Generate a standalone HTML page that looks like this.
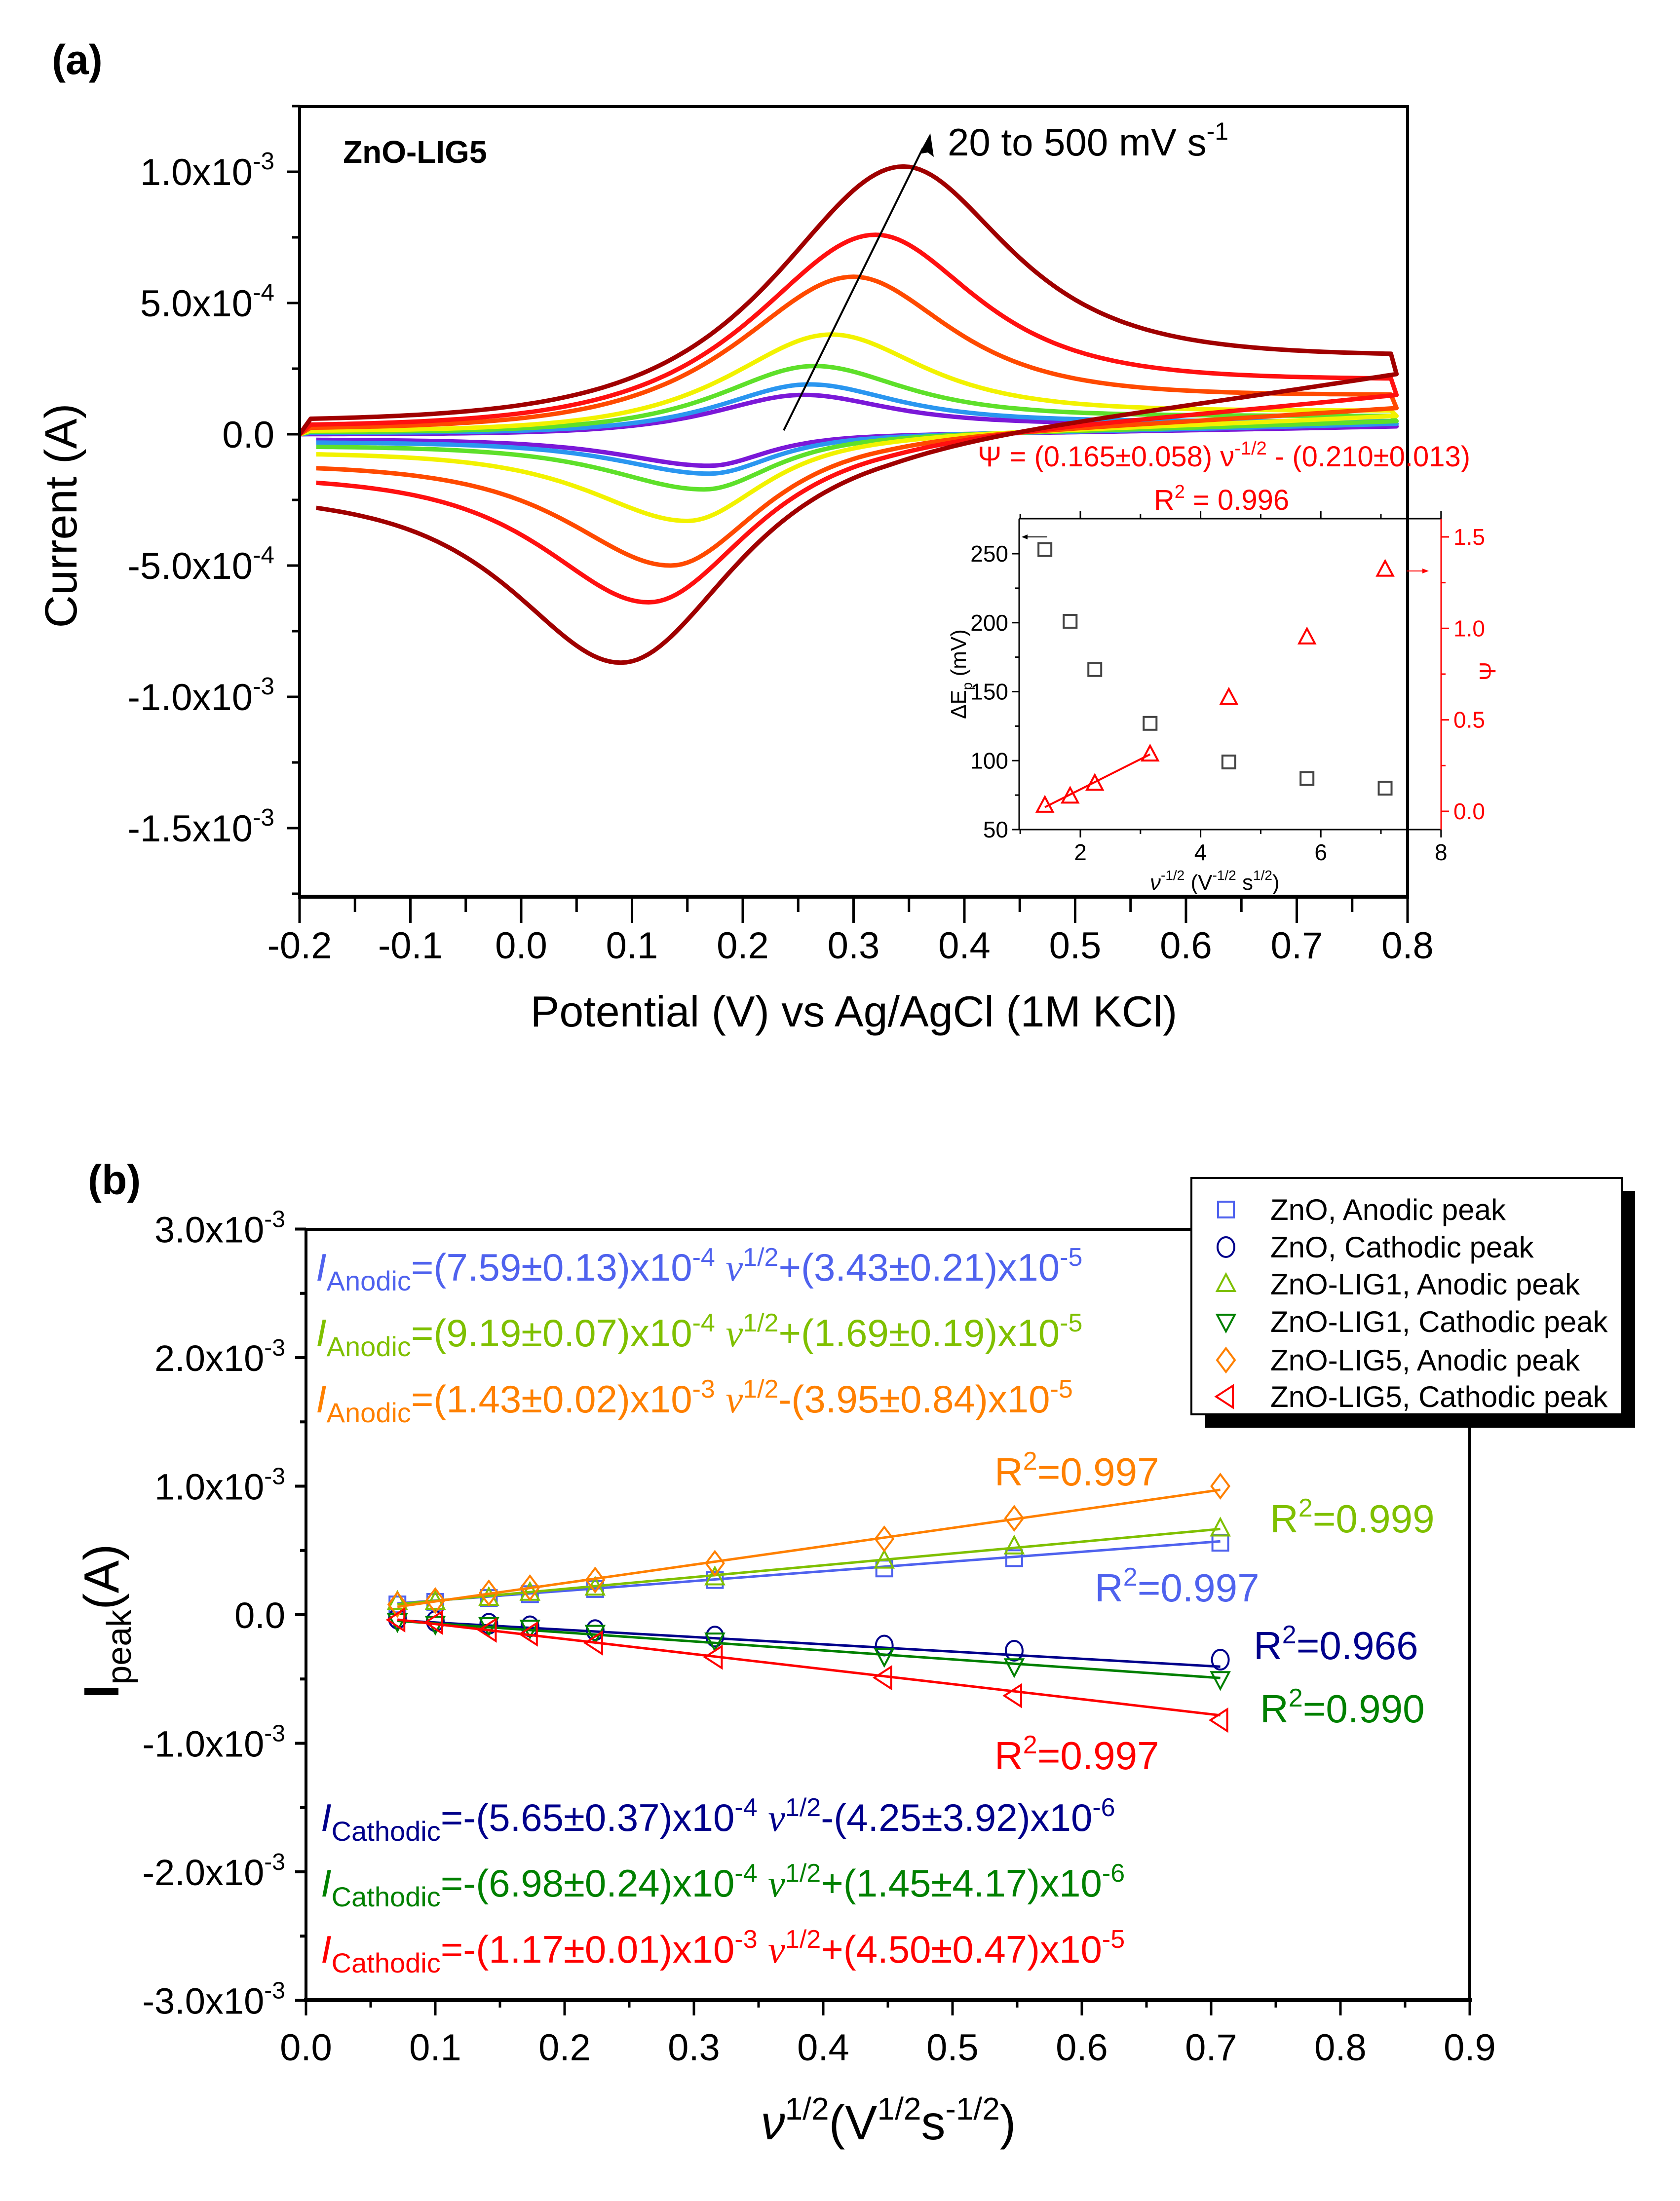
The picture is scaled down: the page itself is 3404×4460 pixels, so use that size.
<!DOCTYPE html>
<html><head><meta charset="utf-8"><style>
html,body{margin:0;padding:0;background:#fff}
svg{display:block;font-family:"Liberation Sans",Arial,sans-serif}
</style></head><body>
<svg id="fig" width="3404" height="4460" viewBox="0 0 3404 4460" xmlns="http://www.w3.org/2000/svg">
<rect width="3404" height="4460" fill="#fff"/>
<g id="pa"></g>
<g id="pb"></g>
</svg>
<script>
// ---------- Panel (a) CV data (one entry per scan rate) ----------
const scanRates = [20, 30, 50, 100, 200, 300, 500];
const cvColors = ["#7b18d8", "#2a96f0", "#5ee02a", "#f2f200", "#ff4a00", "#ff1010", "#a00000"];
const anodicPeakE = [0.255, 0.26, 0.265, 0.28, 0.30, 0.32, 0.345];
const anodicPeakI = [1.5e-4, 1.9e-4, 2.6e-4, 3.8e-4, 6.0e-4, 7.6e-4, 10.2e-4];
const cathodicPeakE = [0.17, 0.17, 0.165, 0.15, 0.135, 0.115, 0.09];
const cathodicPeakI = [-1.2e-4, -1.5e-4, -2.1e-4, -3.3e-4, -5.0e-4, -6.4e-4, -8.7e-4];
const forwardStartI = [0.0, 0.05e-4, 0.08e-4, 0.12e-4, 0.2e-4, 0.3e-4, 0.5e-4];
const forwardEndI = [0.4e-4, 0.5e-4, 0.7e-4, 0.9e-4, 1.5e-4, 2.1e-4, 3.0e-4];
const reverseStartI = [0.3e-4, 0.4e-4, 0.5e-4, 0.7e-4, 1.0e-4, 1.5e-4, 2.3e-4];
const reverseEndI = [-0.2e-4, -0.3e-4, -0.45e-4, -0.7e-4, -1.15e-4, -1.6e-4, -2.3e-4];
const riseWidth = [0.07, 0.07, 0.075, 0.08, 0.09, 0.095, 0.1];
const decayWidth = [0.065, 0.067, 0.07, 0.072, 0.075, 0.078, 0.082];
const cathRightWidth = [0.045, 0.05, 0.055, 0.06, 0.07, 0.08, 0.09];
const cathLeftWidth = [0.07, 0.072, 0.074, 0.076, 0.08, 0.082, 0.085];
const aXTicks = [-0.2, -0.1, 0.0, 0.1, 0.2, 0.3, 0.4, 0.5, 0.6, 0.7, 0.8];
const aYTicks = [[1.0, -3, 1e-3], [5.0, -4, 5e-4], [0, 0, 0], [-5.0, -4, -5e-4], [-1.0, -3, -1e-3], [-1.5, -3, -1.5e-3]];
// inset
const insetX = [1.41, 1.83, 2.24, 3.16, 4.47, 5.77, 7.07];
const insetDeltaEp = [253, 201, 166, 127, 99, 87, 80];
const insetPsi = [0.03, 0.08, 0.15, 0.31, 0.62, 0.95, 1.32];
const insetFitX = [1.41, 3.16];
const psiSlope = 0.165, psiIntercept = -0.210;
const insetXTicks = [2, 4, 6, 8];
const insetLeftTicks = [50, 100, 150, 200, 250];
const insetRightTicks = [0.0, 0.5, 1.0, 1.5];

// ---------- Panel (b) data ----------
const sqrtRate = [0.0707, 0.1, 0.1414, 0.1732, 0.2236, 0.3162, 0.4472, 0.5477, 0.7071];
const znoAnodic = [0.08e-3, 0.1e-3, 0.13e-3, 0.16e-3, 0.2e-3, 0.27e-3, 0.36e-3, 0.44e-3, 0.56e-3];
const znoCathodic = [-0.03e-3, -0.05e-3, -0.07e-3, -0.09e-3, -0.12e-3, -0.17e-3, -0.24e-3, -0.28e-3, -0.35e-3];
const lig1Anodic = [0.1e-3, 0.1e-3, 0.13e-3, 0.17e-3, 0.21e-3, 0.29e-3, 0.42e-3, 0.53e-3, 0.67e-3];
const lig1Cathodic = [-0.05e-3, -0.07e-3, -0.08e-3, -0.1e-3, -0.14e-3, -0.2e-3, -0.32e-3, -0.4e-3, -0.5e-3];
const lig5Anodic = [0.08e-3, 0.11e-3, 0.17e-3, 0.21e-3, 0.27e-3, 0.4e-3, 0.59e-3, 0.75e-3, 1.0e-3];
const lig5Cathodic = [-0.04e-3, -0.06e-3, -0.12e-3, -0.15e-3, -0.22e-3, -0.33e-3, -0.49e-3, -0.63e-3, -0.82e-3];
const fitSlopes = [7.59e-4, -5.65e-4, 9.19e-4, -6.98e-4, 1.43e-3, -1.17e-3];
const fitIntercepts = [3.43e-5, -4.25e-6, 1.69e-5, 1.45e-6, -3.95e-5, 4.50e-5];
const seriesNames = ["ZnO, Anodic peak", "ZnO, Cathodic peak", "ZnO-LIG1, Anodic peak", "ZnO-LIG1, Cathodic peak", "ZnO-LIG5, Anodic peak", "ZnO-LIG5, Cathodic peak"];
const seriesColors = ["#4f62ee", "#00008b", "#7fc000", "#008000", "#ff8000", "#ff0000"];
const seriesMarkers = ["square", "circle", "up", "down", "diamond", "left"];
const bXTicks = [0.0, 0.1, 0.2, 0.3, 0.4, 0.5, 0.6, 0.7, 0.8, 0.9];
const bYTicks = [[3.0, -3, 3e-3], [2.0, -3, 2e-3], [1.0, -3, 1e-3], [0, 0, 0], [-1.0, -3, -1e-3], [-2.0, -3, -2e-3], [-3.0, -3, -3e-3]];

const NS = "http://www.w3.org/2000/svg";
function mk(tag, attrs, parent) { const e = document.createElementNS(NS, tag); for (const k in attrs) e.setAttribute(k, attrs[k]); parent.appendChild(e); return e; }
const pa = document.getElementById('pa'), pb = document.getElementById('pb');

// scales
const xA = v => 607 + (v + 0.2) * 2245;
const yA = i => 880 - i * 532000;
const xI = v => 2189 + (v - 2) * 121.8;
const yIL = v => 1681 - (v - 50) * 2.795;
const yIR = v => 1644 - v * 370.7;
const xB = v => 620 + v * 2620;
const yB = i => 3272 - i * 260500;

function sciLabel(parent, x, y, mant, exp, size, anchor, color) {
  const t = mk('text', { x: x, y: y, 'font-size': size, 'text-anchor': anchor, fill: color || '#000' }, parent);
  if (exp === 0) { t.textContent = mant.toFixed(1); return t; }
  const s1 = document.createElementNS(NS, 'tspan'); s1.textContent = mant.toFixed(1) + 'x10'; t.appendChild(s1);
  const s2 = document.createElementNS(NS, 'tspan'); s2.setAttribute('dy', -size * 0.42); s2.setAttribute('font-size', size * 0.65); s2.textContent = String(exp); t.appendChild(s2);
  return t;
}
const sech = x => 2 / (Math.exp(x) + Math.exp(-x));

// ===== Panel (a) =====
let t = mk('text', { x: 105, y: 150, 'font-size': 84, 'font-weight': 'bold' }, pa); t.textContent = '(a)';
 

const curvesG = mk('g', { fill: 'none', 'stroke-width': 9, 'stroke-linejoin': 'round' }, pa);
 
for (let k = 0; k < scanRates.length; k++) {
  const pts = [];
  const Ea = anodicPeakE[k], Ia = anodicPeakI[k];
  pts.push([xA(-0.2), yA(0)]);
  for (let E = -0.19; E <= 0.79; E += 0.005) {
    let i;
    if (E < Ea) i = forwardStartI[k] + (Ia - forwardStartI[k]) * sech((Ea - E) / riseWidth[k]);
    else i = forwardEndI[k] + (Ia - forwardEndI[k]) * sech((E - Ea) / decayWidth[k]);
    pts.push([xA(E), yA(i)]);
  }
  const Ec = cathodicPeakE[k], Ic = cathodicPeakI[k], E0 = 0.33;
  for (let E = 0.79; E >= -0.19; E -= 0.005) {
    let i = E < Ec ? reverseEndI[k] + (Ic - reverseEndI[k]) * sech((Ec - E) / cathLeftWidth[k]) : Ic * sech((E - Ec) / cathRightWidth[k]);
    if (E > E0) i += reverseStartI[k] * Math.pow((E - E0) / (0.79 - E0), 1.3);
    pts.push([xA(E), yA(i)]);
  }
  const p = mk('path', { d: 'M' + pts.map(q => q[0].toFixed(1) + ',' + q[1].toFixed(1)).join('L'), stroke: cvColors[k] }, curvesG);
  
  
}
// axes a
const axA = mk('g', { stroke: '#000', fill: 'none' }, pa);
 
mk('rect', { x: 607, y: 216, width: 2245, height: 1601, 'stroke-width': 6 }, axA);
mk('line', { x1: 604, y1: 1817, x2: 2855, y2: 1817, 'stroke-width': 8 }, axA);
for (let v = -0.2; v <= 0.8001; v += 0.05) {
  const major = Math.abs(Math.round(v * 10) - v * 10) < 1e-6;
  mk('line', { x1: xA(v), y1: 1820, x2: xA(v), y2: major ? 1870 : 1848, 'stroke-width': 5 }, axA);
}
for (let i = -1.75e-3; i <= 1.25e-3; i += 2.5e-4) {
  const major = Math.abs(Math.round(i / 5e-4) * 5e-4 - i) < 1e-9;
  mk('line', { x1: 607, y1: yA(i), x2: major ? 581 : 592, y2: yA(i), 'stroke-width': 5 }, axA);
}
const tlA = mk('g', {}, pa);  
aXTicks.forEach(v => { const e = mk('text', { x: xA(v), y: 1942, 'font-size': 76, 'text-anchor': 'middle' }, tlA); e.textContent = v.toFixed(1); });
aYTicks.forEach(a => sciLabel(tlA, 556, yA(a[2]) + 27, a[0], a[1], 76, 'end'));
t = mk('text', { x: 1730, y: 2080, 'font-size': 88, 'text-anchor': 'middle' }, pa); t.textContent = 'Potential (V) vs Ag/AgCl (1M KCl)';
 
t = mk('text', { x: 0, y: 0, 'font-size': 92, 'text-anchor': 'middle', transform: 'translate(155,1045) rotate(-90)' }, pa); t.textContent = 'Current (A)';
 
t = mk('text', { x: 695, y: 330, 'font-size': 64, 'font-weight': 'bold' }, pa); t.textContent = 'ZnO-LIG5';
 
// arrow
const arr = mk('g', {}, pa);  
mk('line', { x1: 1588, y1: 872, x2: 1870, y2: 300, stroke: '#000', 'stroke-width': 4 }, arr);
mk('polygon', { points: '1885,270 1862,312 1880,309 1892,318', fill: '#000' }, arr);
t = mk('text', { x: 1920, y: 315, 'font-size': 78 }, pa);
t.innerHTML = '20 to 500 mV s<tspan dy="-32" font-size="50">-1</tspan>';
 
t = mk('text', { x: 2480, y: 945, 'font-size': 58, 'text-anchor': 'middle', fill: '#ff0000' }, pa);
t.innerHTML = 'Ψ = (0.165±0.058) ν<tspan dy="-24" font-size="38">-1/2</tspan><tspan dy="24"> - (0.210±0.013)</tspan>';
 
t = mk('text', { x: 2475, y: 1033, 'font-size': 58, 'text-anchor': 'middle', fill: '#ff0000' }, pa);
t.innerHTML = 'R<tspan dy="-24" font-size="38">2</tspan><tspan dy="24"> = 0.996</tspan>';
 

// inset
const ins = mk('g', {}, pa);  
mk('line', { x1: 2065, y1: 1051, x2: 2920, y2: 1051, stroke: '#000', 'stroke-width': 3 }, ins);
mk('line', { x1: 2065, y1: 1681, x2: 2920, y2: 1681, stroke: '#000', 'stroke-width': 3 }, ins);
mk('line', { x1: 2065, y1: 1051, x2: 2065, y2: 1681, stroke: '#000', 'stroke-width': 3 }, ins);
mk('line', { x1: 2920, y1: 1051, x2: 2920, y2: 1681, stroke: '#ff0000', 'stroke-width': 3 }, ins);
for (let v = 1; v <= 8; v++) { mk('line', { x1: xI(v), y1: 1681, x2: xI(v), y2: v % 2 === 0 ? 1697 : 1690, stroke: '#000', 'stroke-width': 3 }, ins); mk('line', { x1: xI(v), y1: 1051, x2: xI(v), y2: v % 2 === 0 ? 1035 : 1042, stroke: '#000', 'stroke-width': 3 }, ins); }
for (let v = 50; v <= 270; v += 25) mk('line', { x1: 2065, y1: yIL(v), x2: v % 50 === 0 ? 2050 : 2057, y2: yIL(v), stroke: '#000', 'stroke-width': 3 }, ins);
for (let v = 0; v <= 1.5; v += 0.25) mk('line', { x1: 2920, y1: yIR(v), x2: Math.abs(v * 2 - Math.round(v * 2)) < 1e-6 ? 2936 : 2929, y2: yIR(v), stroke: '#ff0000', 'stroke-width': 3 }, ins);
insetXTicks.forEach(v => { const e = mk('text', { x: xI(v), y: 1743, 'font-size': 46, 'text-anchor': 'middle' }, ins); e.textContent = v; });
insetLeftTicks.forEach(v => { const e = mk('text', { x: 2043, y: yIL(v) + 16, 'font-size': 46, 'text-anchor': 'end' }, ins); e.textContent = v; });
insetRightTicks.forEach(v => { const e = mk('text', { x: 2945, y: yIR(v) + 16, 'font-size': 46, fill: '#ff0000' }, ins); e.textContent = v.toFixed(1); });
t = mk('text', { x: 0, y: 0, 'font-size': 44, 'text-anchor': 'middle', transform: 'translate(1957,1366) rotate(-90)' }, ins);
t.innerHTML = 'ΔE<tspan dy="12" font-size="28">p</tspan><tspan dy="-12"> (mV)</tspan>';
 
t = mk('text', { x: 0, y: 0, 'font-size': 46, 'text-anchor': 'middle', fill: '#ff0000', transform: 'translate(3030,1360) rotate(-90)' }, ins); t.textContent = 'Ψ';
 
t = mk('text', { x: 2330, y: 1803, 'font-size': 44 }, ins);
t.innerHTML = '<tspan font-style="italic">ν</tspan><tspan dy="-20" font-size="28">-1/2</tspan><tspan dy="20"> (V</tspan><tspan dy="-20" font-size="28">-1/2</tspan><tspan dy="20"> s</tspan><tspan dy="-20" font-size="28">1/2</tspan><tspan dy="20">)</tspan>';
 
insetX.forEach((v, i) => {
  const s = mk('rect', { x: xI(v) - 13, y: yIL(insetDeltaEp[i]) - 13, width: 26, height: 26, fill: 'none', stroke: '#444', 'stroke-width': 4 }, ins);
   
  const cx = xI(v), cy = yIR(insetPsi[i]);
  const tr = mk('polygon', { points: `${cx},${cy - 18} ${cx - 16},${cy + 12} ${cx + 16},${cy + 12}`, fill: 'none', stroke: '#ff0000', 'stroke-width': 4 }, ins);
   
});
const fl = mk('line', { x1: xI(insetFitX[0]), y1: yIR(psiSlope * insetFitX[0] + psiIntercept), x2: xI(insetFitX[1]), y2: yIR(psiSlope * insetFitX[1] + psiIntercept), stroke: '#ff0000', 'stroke-width': 4 }, ins);
 
mk('line', { x1: 2072, y1: 1088, x2: 2122, y2: 1088, stroke: '#000', 'stroke-width': 2 }, ins);
mk('polygon', { points: '2070,1088 2082,1083 2082,1093', fill: '#000' }, ins);
mk('line', { x1: 2850, y1: 1157, x2: 2890, y2: 1157, stroke: '#ff0000', 'stroke-width': 2 }, ins);
mk('polygon', { points: '2895,1157 2882,1152 2882,1162', fill: '#ff0000' }, ins);

// ===== Panel (b) =====
t = mk('text', { x: 178, y: 2420, 'font-size': 84, 'font-weight': 'bold' }, pb); t.textContent = '(b)';
 
const axB = mk('g', { stroke: '#000', fill: 'none' }, pb);
 
mk('rect', { x: 620, y: 2491, width: 2358, height: 1562, 'stroke-width': 6 }, axB);
mk('line', { x1: 616, y1: 4053, x2: 2982, y2: 4053, 'stroke-width': 8 }, axB);
for (let v = 0; v <= 0.9001; v += 0.05) {
  const major = Math.abs(Math.round(v * 10) - v * 10) < 1e-6;
  mk('line', { x1: xB(v), y1: 4056, x2: xB(v), y2: major ? 4084 : 4068, 'stroke-width': 5 }, axB);
}
for (let i = -3e-3; i <= 3.0001e-3; i += 5e-4) {
  const major = Math.abs(Math.round(i / 1e-3) * 1e-3 - i) < 1e-9;
  mk('line', { x1: 620, y1: yB(i), x2: major ? 598 : 608, y2: yB(i), 'stroke-width': 6 }, axB);
}
const tlB = mk('g', {}, pb);  
bXTicks.forEach(v => { const e = mk('text', { x: xB(v), y: 4175, 'font-size': 76, 'text-anchor': 'middle' }, tlB); e.textContent = v.toFixed(1); });
bYTicks.forEach(a => sciLabel(tlB, 578, yB(a[2]) + 27, a[0], a[1], 74, 'end'));
t = mk('text', { x: 1800, y: 4335, 'font-size': 98, 'text-anchor': 'middle' }, pb);
t.innerHTML = '<tspan font-style="italic">ν</tspan><tspan dy="-40" font-size="64">1/2</tspan><tspan dy="40">(V</tspan><tspan dy="-40" font-size="64">1/2</tspan><tspan dy="40">s</tspan><tspan dy="-40" font-size="64">-1/2</tspan><tspan dy="40">)</tspan>';
 
t = mk('text', { x: 0, y: 0, 'font-size': 100, 'text-anchor': 'middle', transform: 'translate(240,3285) rotate(-90)' }, pb);
t.innerHTML = '<tspan font-weight="bold">I</tspan><tspan dy="25" font-size="70">peak</tspan><tspan dy="-25">(A)</tspan>';
 

const allSeries = [znoAnodic, znoCathodic, lig1Anodic, lig1Cathodic, lig5Anodic, lig5Cathodic];
function marker(g, type, cx, cy, col) {
  const r = 20; let e;
  if (type === 'square') e = mk('rect', { x: cx - 16, y: cy - 16, width: 32, height: 32 }, g);
  else if (type === 'circle') e = mk('ellipse', { cx: cx, cy: cy, rx: 17, ry: 20 }, g);
  else if (type === 'up') e = mk('polygon', { points: `${cx},${cy - r} ${cx - 18},${cy + 14} ${cx + 18},${cy + 14}` }, g);
  else if (type === 'down') e = mk('polygon', { points: `${cx},${cy + r} ${cx - 18},${cy - 14} ${cx + 18},${cy - 14}` }, g);
  else if (type === 'diamond') e = mk('polygon', { points: `${cx},${cy - 24} ${cx - 18},${cy} ${cx},${cy + 24} ${cx + 18},${cy}` }, g);
  else e = mk('polygon', { points: `${cx - 20},${cy} ${cx + 14},${cy - 22} ${cx + 14},${cy + 22}` }, g);
  e.setAttribute('fill', 'none'); e.setAttribute('stroke', col); e.setAttribute('stroke-width', 4);
  return e;
}
allSeries.forEach((arrS, s) => {
  const g = mk('g', {}, pb);  
  const ln = mk('polyline', { points: sqrtRate.map((x, i) => xB(x).toFixed(1) + ',' + yB(fitSlopes[s] * x + fitIntercepts[s]).toFixed(1)).join(' '), fill: 'none', stroke: seriesColors[s], 'stroke-width': 5 }, g);
   
  arrS.forEach((v, i) => { const m = marker(g, seriesMarkers[s], xB(sqrtRate[i]), yB(v), seriesColors[s]);   });
});
// equations
function eqn(x, y, col, sub, body1, sup1, body2, sup2, name) {
  const e = mk('text', { x: x, y: y, 'font-size': 78, fill: col }, pb);
  e.innerHTML = `<tspan font-style="italic">I</tspan><tspan dy="20" font-size="56">${sub}</tspan><tspan dy="-20">${body1}</tspan><tspan dy="-30" font-size="52">${sup1}</tspan><tspan dy="30"> </tspan><tspan font-style="italic" font-family="Liberation Serif, serif">ν</tspan><tspan dy="-30" font-size="52">1/2</tspan><tspan dy="30">${body2}</tspan><tspan dy="-30" font-size="52">${sup2}</tspan>`;
   
}
eqn(640, 2595, '#4f62ee', 'Anodic', '=(7.59±0.13)x10', '-4', '+(3.43±0.21)x10', '-5', 'equation-zno-anodic');
eqn(640, 2728, '#7fc000', 'Anodic', '=(9.19±0.07)x10', '-4', '+(1.69±0.19)x10', '-5', 'equation-lig1-anodic');
eqn(640, 2862, '#ff8000', 'Anodic', '=(1.43±0.02)x10', '-3', '-(3.95±0.84)x10', '-5', 'equation-lig5-anodic');
eqn(650, 3710, '#00008b', 'Cathodic', '=-(5.65±0.37)x10', '-4', '-(4.25±3.92)x10', '-6', 'equation-zno-cathodic');
eqn(650, 3843, '#008000', 'Cathodic', '=-(6.98±0.24)x10', '-4', '+(1.45±4.17)x10', '-6', 'equation-lig1-cathodic');
eqn(650, 3977, '#ff0000', 'Cathodic', '=-(1.17±0.01)x10', '-3', '+(4.50±0.47)x10', '-5', 'equation-lig5-cathodic');
function r2(x, y, col, val, name) {
  const e = mk('text', { x: x, y: y, 'font-size': 80, fill: col }, pb);
  e.innerHTML = `R<tspan dy="-32" font-size="52">2</tspan><tspan dy="32">=${val}</tspan>`;
   
}
r2(2015, 3010, '#ff8000', '0.997', 'r2-lig5-anodic');
r2(2573, 3105, '#7fc000', '0.999', 'r2-lig1-anodic');
r2(2218, 3245, '#4f62ee', '0.997', 'r2-zno-anodic');
r2(2540, 3362, '#00008b', '0.966', 'r2-zno-cathodic');
r2(2553, 3490, '#008000', '0.990', 'r2-lig1-cathodic');
r2(2015, 3585, '#ff0000', '0.997', 'r2-lig5-cathodic');
// legend
const lg = mk('g', {}, pb);  
mk('rect', { x: 2442, y: 2413, width: 871, height: 480, fill: '#000' }, lg);
mk('rect', { x: 2414, y: 2387, width: 873, height: 479, fill: '#fff', stroke: '#000', 'stroke-width': 4 }, lg);
const rowsY = [2451, 2527, 2602, 2678, 2756, 2830];
seriesNames.forEach((n, s) => {
  const eg = mk('g', {}, lg);  
  marker(eg, seriesMarkers[s], 2484, rowsY[s], seriesColors[s]);
  const e = mk('text', { x: 2574, y: rowsY[s] + 21, 'font-size': 60 }, eg); e.textContent = n;
});
</script>
</body></html>
